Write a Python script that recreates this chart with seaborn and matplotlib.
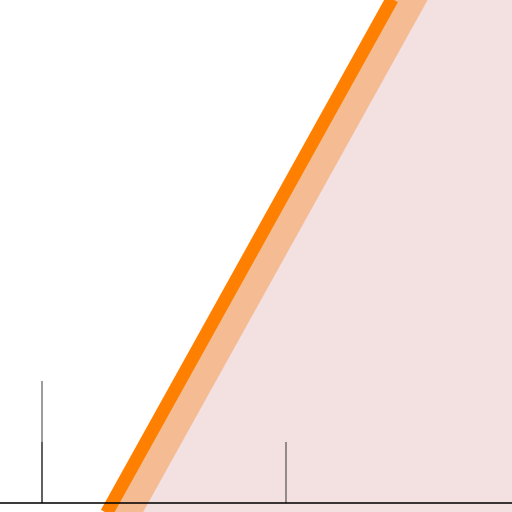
import numpy as np
import matplotlib
matplotlib.use("Agg")
import matplotlib.pyplot as plt
import seaborn as sns

sns.set_style("white")

# ---------------- data ----------------
line_x = [1.15, 5.8]
line_y = [0.0, 8.37]

stem_x = [0.0, 0.0, 4.0]
stem_h = [2.0, 1.0, 1.0]

band_width = 0.59

# ---------------- figure ----------------
fig = plt.figure(figsize=(5.12, 5.12), dpi=100)
ax = fig.add_axes([0, 0, 1, 1])

x_lo, x_hi = -0.689, 7.705
y_lo, y_hi = -0.148, 8.246

# extend the line across the full view
slope = (line_y[1] - line_y[0]) / (line_x[1] - line_x[0])
yy = np.array([y_lo - 1, y_hi + 1])
xx = line_x[0] + (yy - line_y[0]) / slope

ax.fill_betweenx(yy, xx, x_hi + 1, color="#f3e0e1", lw=0, zorder=1)
ax.fill_betweenx(yy, xx, xx + band_width, color="#f5bc94", lw=0, zorder=2)

sns.lineplot(x=xx, y=yy, color="#ff8000", linewidth=9.4, ax=ax,
             solid_capstyle="butt", zorder=3, sort=False)

ax.vlines(stem_x, 0, stem_h, color="black", alpha=0.5, linewidth=1.1, zorder=4)
ax.axhline(0, color="black", linewidth=1.1, zorder=5)

ax.set_xlim(x_lo, x_hi)
ax.set_ylim(y_lo, y_hi)
ax.set_axis_off()

fig.savefig("out.png", dpi=100)
